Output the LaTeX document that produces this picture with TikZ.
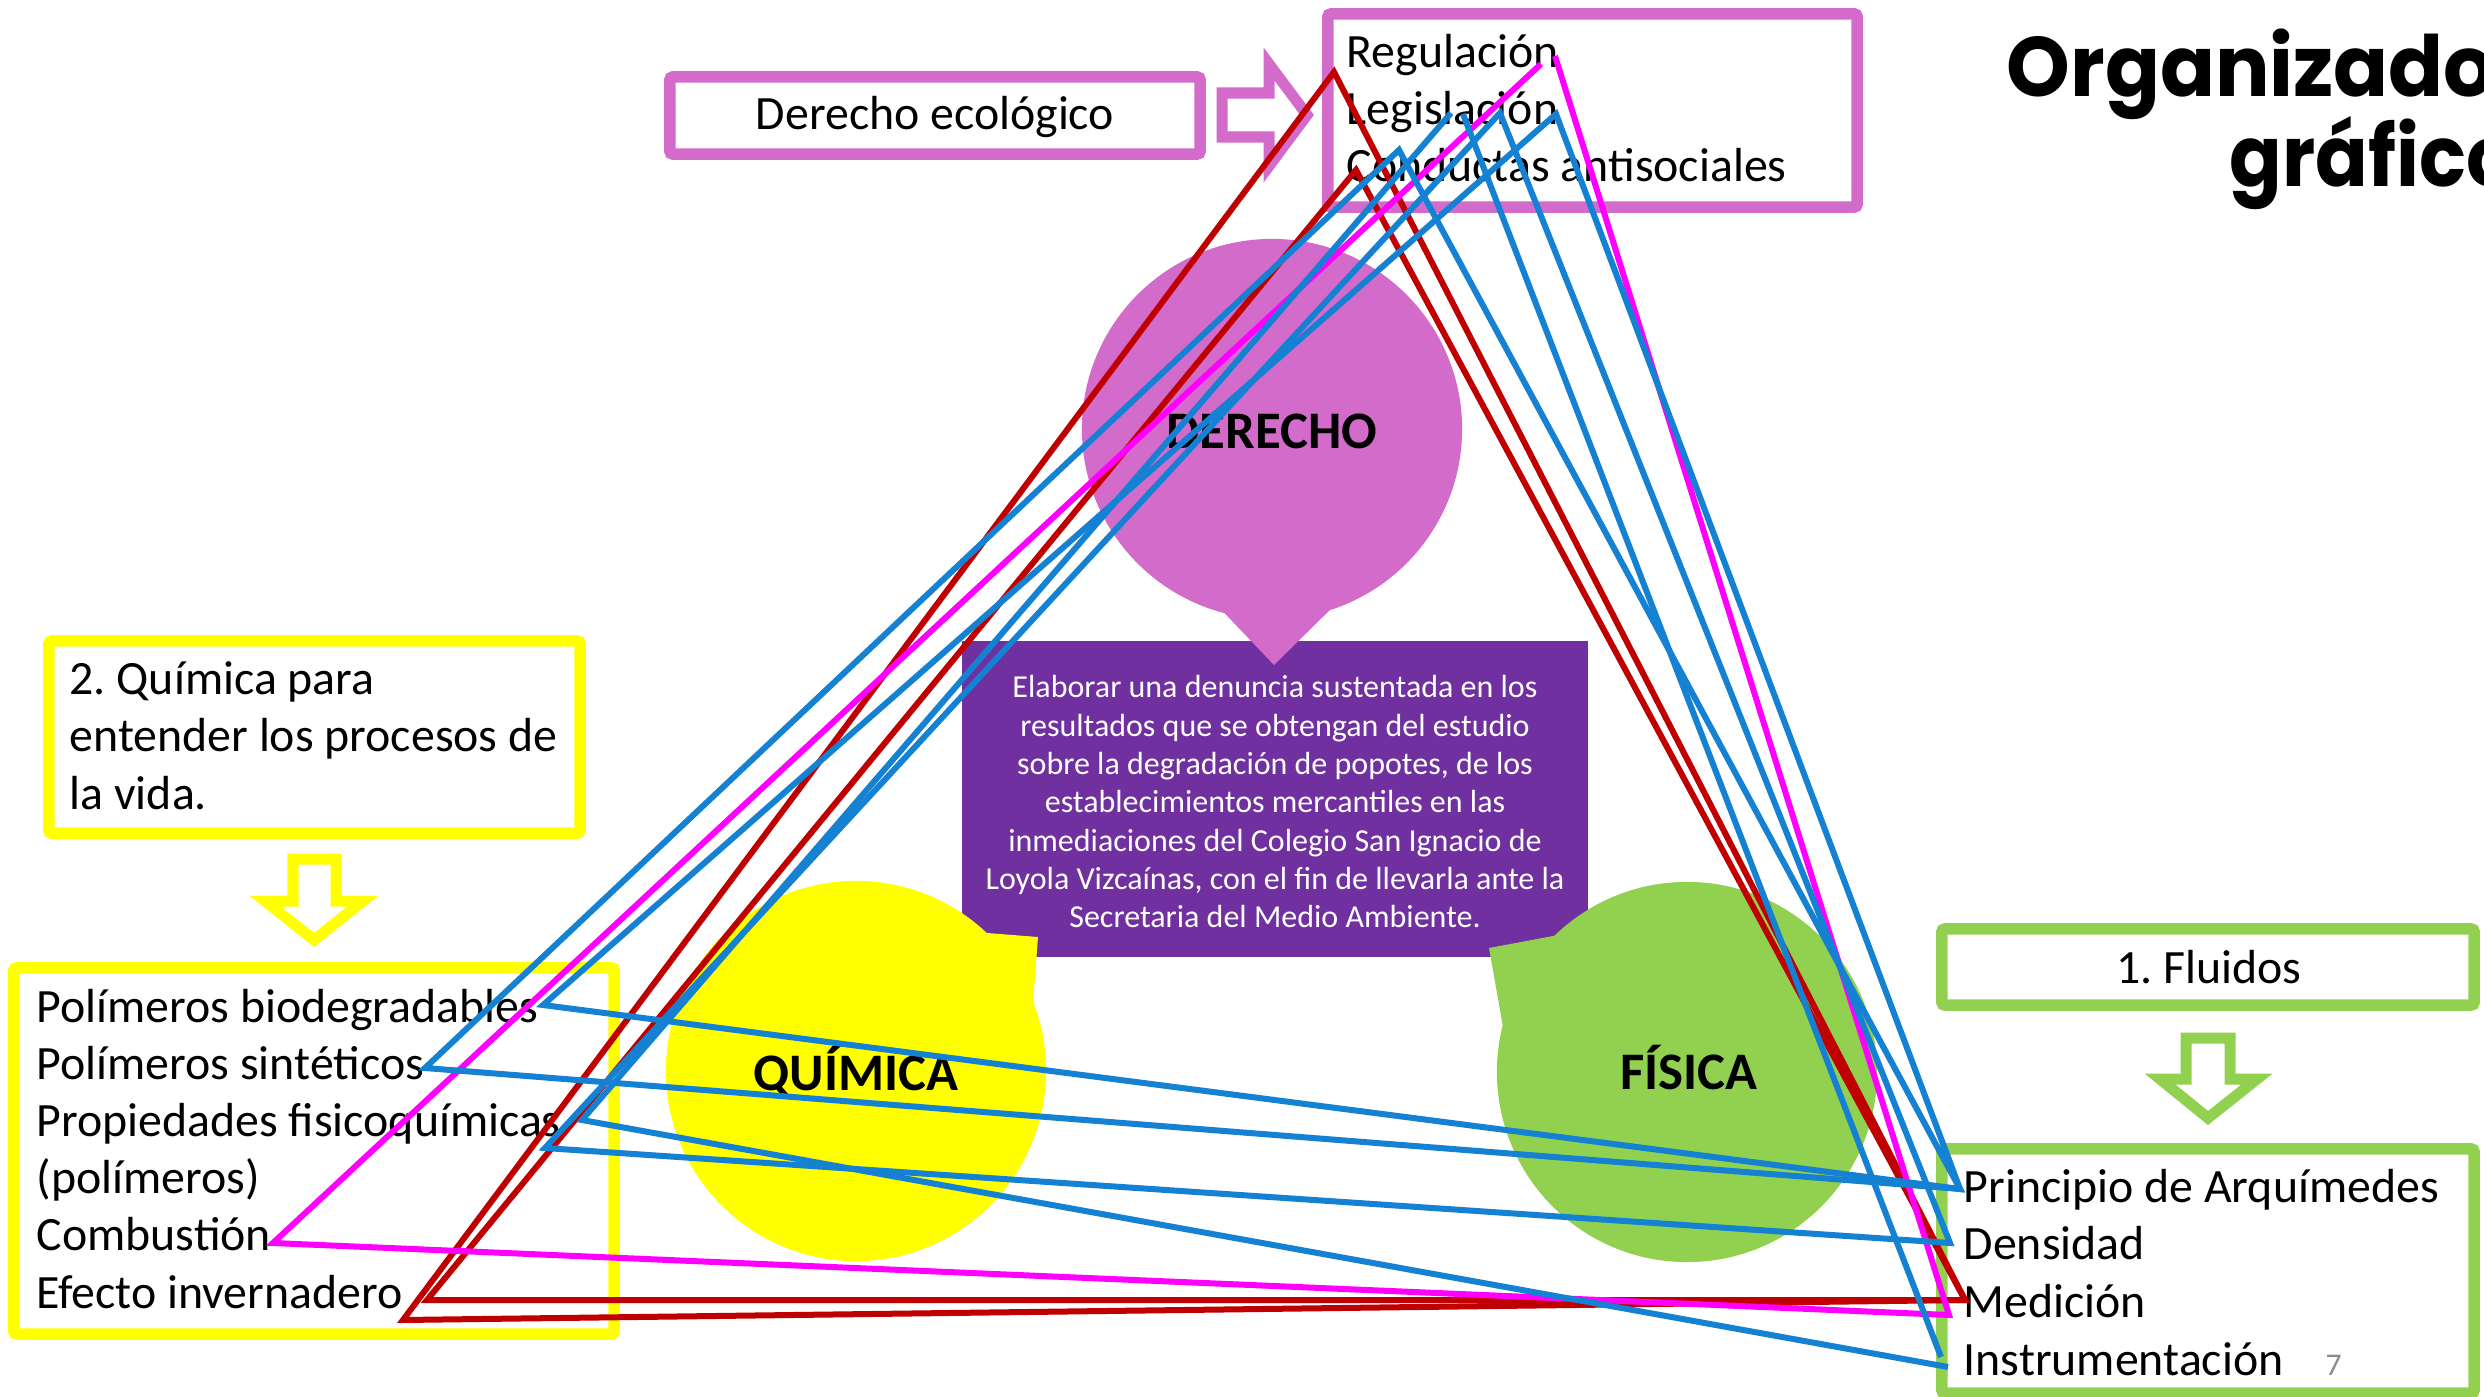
\documentclass[tikz,border=0pt]{standalone}
\usepackage{fontspec}
\setmainfont{Carlito}
\newfontfamily\titlefont{Poppins}
\frenchspacing

\definecolor{orchidpink}{HTML}{D36BCB}
\definecolor{deeppurple}{HTML}{7030A0}
\definecolor{lemon}{HTML}{FFFF00}
\definecolor{leafgreen}{HTML}{92D050}
\definecolor{darkred}{HTML}{C00000}
\definecolor{hotpink}{HTML}{FF00FF}
\definecolor{skyblue}{HTML}{1481D3}

\begin{document}
\begin{tikzpicture}[x=0.01cm, y=-0.01cm,
    framebox/.style={draw, line width=0.115cm, rounded corners=0.03cm, inner sep=0pt},
    item/.style={anchor=base west, inner sep=0pt, font=\fontsize{13.6}{16}\selectfont},
    subject/.style={anchor=base, inner sep=0pt, font=\bfseries\fontsize{15}{18}\selectfont},
    bubble/.style={circle, inner sep=0pt, minimum size=3.80cm},
    hollowarrow/.style={line width=0.11cm, line join=miter, fill=white},
    link/.style={line width=0.06cm}]
    \path[use as bounding box, fill=white] (0,0) rectangle (2484,1397);

    % title, cut by the page edge
    \node[anchor=base west, inner sep=0pt, font=\titlefont\bfseries\fontsize{24}{24}\selectfont] (title1) at (2006,97) {\scalebox{0.96}[1]{Organizado}};
    \node[anchor=base west, inner sep=0pt, font=\titlefont\bfseries\fontsize{24}{24}\selectfont] (title2) at (2229,187) {\scalebox{0.92}[1]{gráfico}};

    % boxes
    \node[framebox, draw=orchidpink, minimum width=5.30cm, minimum height=0.77cm] (ecobox) at (935,115.5) {};
    \node[anchor=base, inner sep=0pt, font=\fontsize{13.6}{16}\selectfont] (eco) at (935,130) {Derecho ecológico};
    \node[framebox, draw=orchidpink, minimum width=5.29cm, minimum height=1.93cm] (lawbox) at (1592.5,110.5) {};
    \node[framebox, draw=lemon, minimum width=5.31cm, minimum height=1.92cm] (chembox) at (314.5,737) {};
    \node[framebox, draw=lemon, minimum width=6.00cm, minimum height=3.66cm] (polybox) at (314,1151) {};
    \node[framebox, draw=leafgreen, minimum width=5.32cm, minimum height=0.76cm] (fluidbox) at (2208,967) {};
    \node[anchor=base, inner sep=0pt, font=\fontsize{13.6}{16}\selectfont] (fluid) at (2209,983) {1. Fluidos};
    \node[framebox, draw=leafgreen, minimum width=5.32cm, minimum height=2.44cm] (physbox) at (2208,1271) {};

    % list texts
    \foreach \txt [count=\i from 0] in {Regulación, Legislación, Conductas antisociales}
        \node[item] (law\i) at (1346,68+57*\i) {\txt};
    \foreach \txt [count=\i from 0] in {2. Química para, entender los procesos de, la vida.}
        \node[item] (chem\i) at (69,694+57.5*\i) {\txt};
    \foreach \txt [count=\i from 0] in {Polímeros biodegradables, Polímeros sintéticos, Propiedades fisicoquímicas, (polímeros), Combustión, Efecto invernadero}
        \node[item] (poly\i) at (36,1022+57.2*\i) {\txt};
    \foreach \txt [count=\i from 0] in {Principio de Arquímedes, Densidad, Medición, Instrumentación}
        \node[item] (phys\i) at (1963,1202+57.7*\i) {\txt};
    \node[anchor=base west, inner sep=0pt, text=black!45, font=\fontsize{9}{10}\selectfont] (pagenum) at (2325,1375) {7};

    % hollow arrows
    \draw[hollowarrow, draw=orchidpink] (1222,93) -- (1269,93) -- (1269,64) -- (1307,115) -- (1269,166) -- (1269,137) -- (1222,137) -- cycle;
    \draw[hollowarrow, draw=lemon] (293,859) -- (336,859) -- (336,901) -- (363,901) -- (314,940) -- (265,901) -- (293,901) -- cycle;
    \draw[hollowarrow, draw=leafgreen] (2186,1038) -- (2230,1038) -- (2230,1079) -- (2257,1079) -- (2208,1118) -- (2160,1079) -- (2186,1079) -- cycle;

    % goal in the middle
    \node[fill=deeppurple, minimum width=6.26cm, minimum height=3.16cm, inner sep=0pt] (goalbox) at (1275,799) {};
    \node[text=white, align=center, inner sep=0pt, font=\fontsize{9.1}{10.9}\selectfont] (goal) at (1275,802)
        {Elaborar una denuncia sustentada en los\\resultados que se obtengan del estudio\\sobre la degradación de popotes, de los\\establecimientos mercantiles en las\\inmediaciones del Colegio San Ignacio de\\Loyola Vizcaínas, con el fin de llevarla ante la\\Secretaria del Medio Ambiente.};

    % speech bubbles
    \node[bubble, fill=orchidpink] (lawbub) at (1272,429) {};
    \fill[orchidpink] (1212,600) -- (1274,665) -- (1340,600) -- cycle;
    \node[bubble, fill=lemon] (chembub) at (856,1071) {};
    \fill[lemon] (chembub.center) -- (987,933) -- (1038,937) -- (1033,1003) -- cycle;
    \node[bubble, fill=leafgreen] (physbub) at (1687,1072) {};
    \fill[leafgreen] (physbub.center) -- (1553,936) -- (1489,948) -- (1503,1027) -- cycle;
    \node[subject] (lawname) at (1272,448) {DERECHO};
    \node[subject] (chemname) at (856,1090) {QUÍMICA};
    \node[subject] (physname) at (1689,1089) {FÍSICA};

    % corners of the triangles
    \coordinate (redtopA) at (1334,72);
    \coordinate (redtopB) at (1356,170);
    \coordinate (redleftA) at (403,1320);
    \coordinate (redleftB) at (427,1300);
    \coordinate (redright) at (1965,1300);
    \coordinate (magtopL) at (1541,64);
    \coordinate (magtopR) at (1555,56);
    \coordinate (magleft) at (273,1243);
    \coordinate (magright) at (1949,1315);
    \coordinate (bluetopA) at (1399,150);
    \coordinate (bluetopB) at (1451,113);
    \coordinate (bluetopBb) at (1463,114);
    \coordinate (bluetopC) at (1500,113);
    \coordinate (bluetopD) at (1556,114);
    \coordinate (bio) at (543,1005);
    \coordinate (sint) at (425,1068);
    \coordinate (prop) at (582,1120);
    \coordinate (propb) at (545,1148);
    \coordinate (arq) at (1960,1189);
    \coordinate (dens) at (1950,1243);
    \coordinate (instr) at (1941,1357);
    \coordinate (instrb) at (1948,1367);

    % triangles
    \draw[link, darkred] (redtopA) -- (redleftA) -- (redright) -- cycle;
    \draw[link, darkred] (redtopB) -- (redleftB) -- (redright) -- cycle;
    \draw[link, hotpink] (magtopL) -- (magleft) -- (magright) -- (magtopR);
    \draw[link, skyblue] (bluetopA) -- (sint) -- (arq) -- cycle;
    \draw[link, skyblue] (bluetopD) -- (bio) -- (arq) -- cycle;
    \draw[link, skyblue] (bluetopBb) -- (instr) (instrb) -- (prop) -- (bluetopB);
    \draw[link, skyblue] (bluetopC) -- (propb) -- (dens) -- cycle;
\end{tikzpicture}
\end{document}
